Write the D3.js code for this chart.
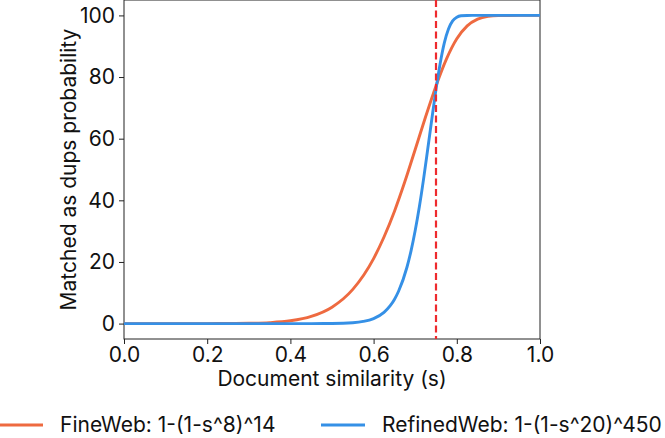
<!DOCTYPE html>
<html>
<head>
<meta charset="utf-8">
<script src="https://cdn.jsdelivr.net/npm/d3@7"></script>
<style>
    body { margin: 0; background: #fff; overflow: hidden; }
    svg { display: block; font-family: Inter, 'DejaVu Sans', sans-serif; }
</style>
</head>
<body>
<svg id="chart"></svg>
<script>
// FineWeb: 1-(1-s^8)^14, values (percent)
const fineSim = [0, 0.1, 0.2, 0.25, 0.3, 0.35, 0.4, 0.45, 0.5, 0.55, 0.6, 0.625, 0.65, 0.675, 0.7,
    0.725, 0.75, 0.775, 0.8, 0.825, 0.85, 0.875, 0.9, 0.95, 1.0];
const fineProb = [0, 0, 0, 0.02, 0.09, 0.31, 0.91, 2.33, 5.33, 11.1, 21.1, 28.1, 36.4, 46.0, 56.5,
    67.1, 77.1, 85.8, 92.4, 96.6, 98.8, 99.7, 99.96, 100, 100];

// RefinedWeb: 1-(1-s^20)^450
const refinedSim = [0, 0.2, 0.4, 0.45, 0.5, 0.55, 0.575, 0.6, 0.625, 0.64, 0.65, 0.66, 0.68, 0.69,
    0.7, 0.71, 0.72, 0.73, 0.74, 0.75, 0.76, 0.77, 0.78, 0.79, 0.8, 0.81, 0.825, 0.85, 0.9, 1.0];
const refinedProb = [0, 0, 0, 0.005, 0.04, 0.29, 0.70, 1.63, 3.65, 5.8, 7.83, 10.5, 18.2, 23.6,
    30.2, 37.9, 46.8, 56.5, 66.4, 76.0, 84.4, 91.1, 95.6, 98.2, 99.4, 99.87, 99.99, 100, 100, 100];

const threshold = 0.75;
const xTicks = [0, 0.2, 0.4, 0.6, 0.8, 1.0];
const yTicks = [0, 20, 40, 60, 80, 100];
const seriesNames = ['FineWeb: 1-(1-s^8)^14', 'RefinedWeb: 1-(1-s^20)^450'];
const COLORS = ['#ee6a40', '#3590e6'];

const width = 665;
const height = 438;
const plot = { left: 124, right: 540, top: 0, bottom: 339 };
const FONT = 21;

const svg = d3.select('#chart')
    .attr('width', width)
    .attr('height', height);

const x = d3.scaleLinear().domain([0, 1]).range([plot.left, plot.right]);
const y = d3.scaleLinear().domain([-5, 105]).range([plot.bottom, plot.top]);

// axes
const xAxis = svg.append('g')
    .attr('transform', `translate(0,${plot.bottom})`)
    .call(d3.axisBottom(x).tickValues(xTicks).tickFormat(d3.format('.1f')).tickSizeOuter(0).tickSize(5).tickPadding(3));

const yAxis = svg.append('g')
    .attr('transform', `translate(${plot.left},0)`)
    .call(d3.axisLeft(y).tickValues(yTicks).tickSizeOuter(0).tickSize(5).tickPadding(4));

[xAxis, yAxis].forEach(a => {
    a.select('.domain').remove();
    a.selectAll('line').attr('stroke', '#222').attr('stroke-width', 1);
    a.selectAll('text').attr('font-size', FONT).attr('fill', '#111').attr('font-family', 'Inter, sans-serif');
});

// frame
svg.append('rect')
    .attr('x', plot.left).attr('y', plot.top)
    .attr('width', plot.right - plot.left)
    .attr('height', plot.bottom - plot.top)
    .attr('fill', 'none')
    .attr('stroke', '#222')
    .attr('stroke-width', 1);

svg.append('clipPath').attr('id', 'clip')
    .append('rect')
    .attr('x', plot.left).attr('y', plot.top)
    .attr('width', plot.right - plot.left)
    .attr('height', plot.bottom - plot.top);

const line = d3.line()
    .x(d => x(d[0]))
    .y(d => y(d[1]))
    .curve(d3.curveMonotoneX);

const series = [
    d3.zip(fineSim, fineProb),
    d3.zip(refinedSim, refinedProb)
];

const g = svg.append('g').attr('clip-path', 'url(#clip)');

series.forEach((pts, i) => {
    g.append('path')
        .datum(pts)
        .attr('d', line)
        .attr('fill', 'none')
        .attr('stroke', COLORS[i])
        .attr('stroke-width', 2.9);
});

// threshold line
g.append('line')
    .attr('x1', x(threshold)).attr('x2', x(threshold))
    .attr('y1', plot.top).attr('y2', plot.bottom)
    .attr('stroke', '#ee2a2e')
    .attr('stroke-width', 2.2)
    .attr('stroke-dasharray', '7,3.5');

// axis labels
svg.append('text')
    .attr('x', (plot.left + plot.right) / 2)
    .attr('y', 386)
    .attr('text-anchor', 'middle')
    .attr('font-size', FONT)
    .attr('fill', '#111')
    .text('Document similarity (s)');

svg.append('text')
    .attr('transform', `translate(76,${(plot.top + plot.bottom) / 2}) rotate(-90)`)
    .attr('text-anchor', 'middle')
    .attr('font-size', FONT)
    .attr('fill', '#111')
    .text('Matched as dups probability');

// legend
const legendX = [-1, 321];
seriesNames.forEach((name, i) => {
    const lg = svg.append('g').attr('transform', `translate(${legendX[i]},425)`);
    lg.append('line')
        .attr('x1', 0).attr('x2', 44)
        .attr('y1', 0).attr('y2', 0)
        .attr('stroke', COLORS[i])
        .attr('stroke-width', 2.9);
    lg.append('text')
        .attr('x', 61)
        .attr('y', 0)
        .attr('dy', '0.35em')
        .attr('font-size', FONT)
        .attr('fill', '#111')
        .text(name);
});
</script>
</body>
</html>
